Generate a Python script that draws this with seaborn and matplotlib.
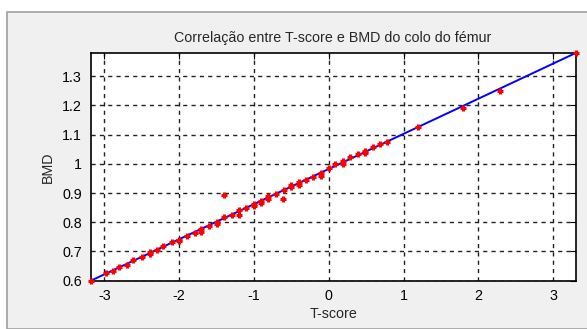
import numpy as np
import pandas as pd
import matplotlib
matplotlib.use("Agg")
import matplotlib.pyplot as plt
import seaborn as sns
from matplotlib.patches import Rectangle

t_score = [-3.18, -2.98, -2.89, -2.81, -2.70, -2.62, -2.50, -2.39, -2.39, -2.30,
           -2.21, -2.10, -2.00, -2.00, -1.90, -1.79, -1.71, -1.71, -1.60, -1.50,
           -1.50, -1.40, -1.40, -1.30, -1.20, -1.20, -1.10, -1.00, -1.00, -0.90,
           -0.90, -0.81, -0.81, -0.71, -0.61, -0.60, -0.50, -0.50, -0.40, -0.40,
           -0.31, -0.21, -0.11, -0.11, 0.00, 0.08, 0.19, 0.19, 0.29, 0.39,
           0.49, 0.49, 0.59, 0.68, 0.78, 1.19, 1.80, 2.29, 3.30]
bmd = [0.600, 0.627, 0.632, 0.647, 0.653, 0.670, 0.682, 0.690, 0.699, 0.706,
       0.718, 0.733, 0.740, 0.735, 0.752, 0.763, 0.776, 0.768, 0.786, 0.801,
       0.795, 0.894, 0.817, 0.824, 0.841, 0.826, 0.849, 0.864, 0.856, 0.872,
       0.866, 0.889, 0.881, 0.896, 0.881, 0.909, 0.926, 0.920, 0.936, 0.929,
       0.944, 0.955, 0.967, 0.959, 0.984, 0.998, 1.009, 0.999, 1.024, 1.033,
       1.044, 1.037, 1.058, 1.066, 1.075, 1.126, 1.191, 1.250, 1.379]
line_t = [-3.18, 3.30]
line_bmd = [0.600, 1.379]
x_ticks = [-3, -2, -1, 0, 1, 2, 3]
x_tick_labels = ["-3", "-2", "-1", "0", "1", "2", "3"]
y_ticks = [0.6, 0.7, 0.8, 0.9, 1.0, 1.1, 1.2, 1.3]
y_tick_labels = ["0.6", "0.7", "0.8", "0.9", "1", "1.1", "1.2", "1.3"]

sns.set_style("white")
plt.rcParams['font.family'] = ['Liberation Sans', 'DejaVu Sans']
plt.rcParams['axes.unicode_minus'] = False

fig = plt.figure(figsize=(5.87, 3.29), dpi=100)
fig.patch.set_facecolor("white")
bg = Rectangle((7/587, 0), 1, 1 - 12/329, transform=fig.transFigure,
               facecolor="#f0f0f0", edgecolor="#a0a0a0", linewidth=1.2, zorder=-10)
fig.add_artist(bg)

ax = fig.add_axes([90.5/587, 1 - 280.7/329, (575.7 - 90.5)/587, (280.7 - 53)/329])
ax.set_zorder(5)
ax.set_facecolor("white")

df_pts = pd.DataFrame({"T-score": t_score, "BMD": bmd})
df_line = pd.DataFrame({"T-score": line_t, "BMD": line_bmd})

sns.lineplot(data=df_line, x="T-score", y="BMD", ax=ax, color="#0000ff",
             linewidth=1.4, zorder=3)
ax.scatter(df_pts["T-score"], df_pts["BMD"], marker="+", s=24, linewidths=2.2,
           color="#ff0000", zorder=4, clip_on=False)

ax.set_xlim(-3.185, 3.30)
ax.set_ylim(0.6, 1.379)
ax.set_xticks(x_ticks)
ax.set_xticklabels(x_tick_labels)
ax.set_yticks(y_ticks)
ax.set_yticklabels(y_tick_labels)
ax.grid(True, color="#222222", linestyle=(0, (3, 3)), linewidth=1.0)
ax.tick_params(direction="in", length=4, width=0.8, labelsize=10.3, colors="black",
               top=True, right=True, pad=6)
for s in ax.spines.values():
    s.set_color("black")
    s.set_linewidth(1.2)
ax.set_xlabel("T-score", fontsize=10.3, labelpad=3)
ax.set_ylabel("BMD", fontsize=10.3, labelpad=5)
ax.set_title("Correlação entre T-score e BMD do colo do fémur", fontsize=10.3, pad=8)

fig.savefig("out.png", dpi=100)
